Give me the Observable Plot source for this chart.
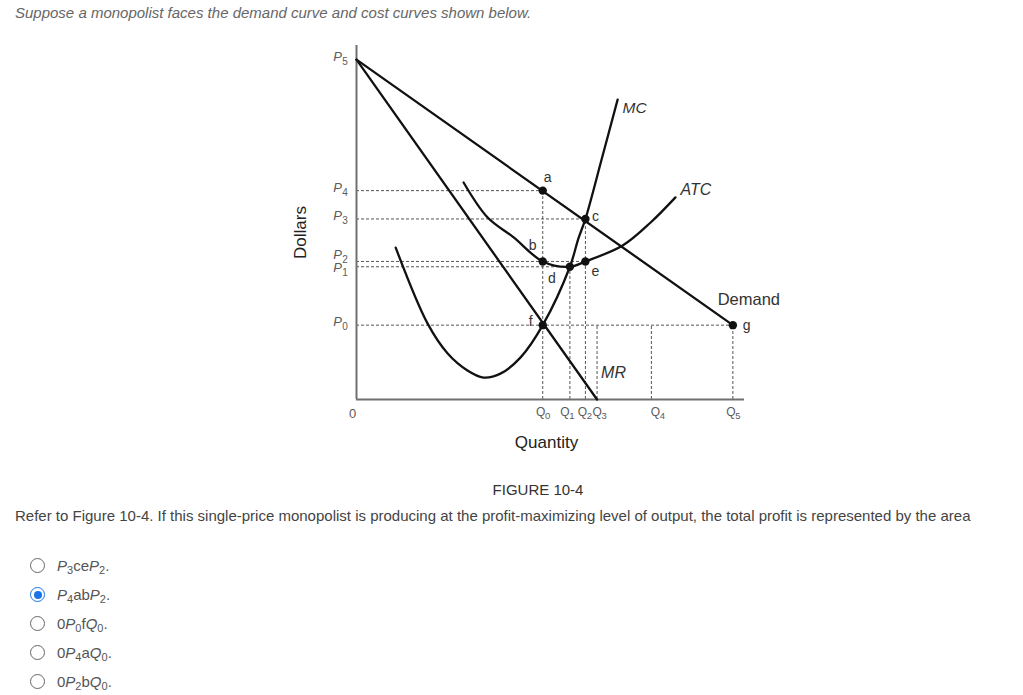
<!DOCTYPE html>
<html>
<head>
<meta charset="utf-8">
<script src="https://cdn.jsdelivr.net/npm/d3@7"></script>
<script src="https://cdn.jsdelivr.net/npm/@observablehq/plot@0.6"></script>
<style>
  html, body { margin: 0; padding: 0; background: #fff; }
  body { width: 1023px; height: 695px; position: relative; overflow: hidden; font-family: "Liberation Sans", Arial, sans-serif; }
  .abs { position: absolute; white-space: nowrap; }
  #title { left: 15px; top: 4px; font-size: 15px; font-style: italic; color: #666; }
  #chart { position: absolute; left: 0; top: 30px; }
  #fig { left: 0; width: 1076px; text-align: center; top: 481px; font-size: 15px; color: #333; }
  #question { left: 15px; top: 507px; font-size: 15px; color: #444; }
  .opt { left: 57px; font-size: 15px; color: #555; }
  .opt i { font-style: italic; }
  .opt sub { font-size: 11px; vertical-align: -3px; line-height: 0; }
  .radio { position: absolute; left: 30px; width: 13px; height: 13px; border: 1.6px solid #666; border-radius: 50%; box-sizing: content-box; }
  .radio.sel { border-color: #1a73e8; }
  .radio.sel::after { content: ""; position: absolute; left: 2.5px; top: 2.5px; width: 8px; height: 8px; border-radius: 50%; background: #1a73e8; }
</style>
</head>
<body>
<div id="title" class="abs">Suppose a monopolist faces the demand curve and cost curves shown below.</div>
<div id="chart"></div>
<div id="fig" class="abs">FIGURE 10-4</div>
<div id="question" class="abs">Refer to Figure 10-4. If this single-price monopolist is producing at the profit-maximizing level of output, the total profit is represented by the area</div>

<div class="radio" style="top:558px"></div>
<div class="abs opt" style="top:557px"><i>P</i><sub>3</sub>ce<i>P</i><sub>2</sub>.</div>
<div class="radio sel" style="top:587px"></div>
<div class="abs opt" style="top:586px"><i>P</i><sub>4</sub>ab<i>P</i><sub>2</sub>.</div>
<div class="radio" style="top:616px"></div>
<div class="abs opt" style="top:615px">0<i>P</i><sub>0</sub>f<i>Q</i><sub>0</sub>.</div>
<div class="radio" style="top:645px"></div>
<div class="abs opt" style="top:644px">0<i>P</i><sub>4</sub>a<i>Q</i><sub>0</sub>.</div>
<div class="radio" style="top:674px"></div>
<div class="abs opt" style="top:673px">0<i>P</i><sub>2</sub>b<i>Q</i><sub>0</sub>.</div>

<script>
// ---- Data ----
const qSubs = ["0", "1", "2", "3", "4", "5"];
const qValues = [48, 55, 59, 62, 76, 97];
const pSubs = ["0", "1", "2", "3", "4", "5"];
const pValues = [21, 37.5, 39, 51, 59, 96];

const demandQ = [0, 97];
const demandP = [96, 21];
const mrQ = [0, 62];
const mrP = [96, 0];
const mcQ = [10.1, 18.3, 23.5, 28.6, 32.7, 37.1, 42.3, 48, 55, 57.2, 59, 63.1, 67.3];
const mcP = [42.9, 21.5, 13.0, 8.2, 6.2, 7.3, 11.9, 21, 37.5, 45.5, 51, 67.5, 84.7];
const atcQ = [27.6, 33.8, 40.5, 48, 55, 59, 68.6, 75.8, 82.2];
const atcP = [61.3, 51.4, 45.8, 39, 37.5, 39, 43.5, 50, 57.1];

const pointNames = ["a", "b", "c", "d", "e", "f", "g"];
const pointQ = [48, 48, 59, 55, 59, 48, 97];
const pointP = [59, 39, 51, 37.5, 39, 21, 21];

// dashed guides: horizontal (price level -> quantity) and vertical (quantity -> price level)
const hDashP = [59, 51, 39, 37.5, 21];
const hDashQ = [48, 59, 59, 55, 97];
const vDashQ = [48, 55, 59, 62, 76, 97];
const vDashP = [59, 37.5, 51, 21, 21, 21];

// ---- Tables built from the arrays ----
const zip2 = (xs, ys) => xs.map((x, i) => ({x, y: ys[i]}));
const demand = zip2(demandQ, demandP);
const mr = zip2(mrQ, mrP);
const mc = zip2(mcQ, mcP);
const atc = zip2(atcQ, atcP);
const points = pointNames.map((n, i) => ({n, x: pointQ[i], y: pointP[i]}));
const hDash = hDashP.map((p, i) => ({p, q: hDashQ[i]}));
const vDash = vDashQ.map((q, i) => ({q, p: vDashP[i]}));
const qTicks = qSubs.map((s, i) => ({s, v: qValues[i]}));
const pTicks = pSubs.map((s, i) => ({s, v: pValues[i]}));
const pt = n => points.find(d => d.n === n);

// label offsets (style only)
const ink = "#111";
const labelDx = {a: 5, b: -10, c: 10, d: -18, e: 10, f: -12, g: 10};
const labelDy = {a: -13, b: -16, c: -2, d: 12, e: 10, f: -4, g: 0};
const pNudge = {"1": 4, "2": -4};
const qNudge = {"0": -2, "1": -5, "2": -3, "3": 0, "4": 4, "5": -2};
const labelGray = "#5a5a5a";

const chart = Plot.plot({
  width: 1023,
  height: 440,
  marginLeft: 356,
  marginRight: 279,
  marginTop: 15,
  marginBottom: 71,
  x: {domain: [0, 100], axis: null},
  y: {domain: [0, 100], axis: null},
  style: {fontFamily: "Liberation Sans, Arial, sans-serif", background: "transparent"},
  marks: [
    // dashed guides
    Plot.ruleY(hDash, {y: "p", x1: 0, x2: "q", stroke: "#555", strokeWidth: 1, strokeDasharray: "3,2"}),
    Plot.ruleX(vDash, {x: "q", y1: 0, y2: "p", stroke: "#555", strokeWidth: 1, strokeDasharray: "3,2"}),
    // axis lines
    Plot.ruleX([0], {y1: 0, y2: 100, stroke: "#707070", strokeWidth: 2}),
    Plot.ruleY([0], {x1: 0, x2: 100, stroke: "#707070", strokeWidth: 2}),
    // curves
    Plot.line(demand, {x: "x", y: "y", stroke: ink, strokeWidth: 2.3}),
    Plot.line(mr, {x: "x", y: "y", stroke: ink, strokeWidth: 2.3}),
    Plot.line(mc, {x: "x", y: "y", stroke: ink, strokeWidth: 2.3, curve: "catmull-rom"}),
    Plot.line(atc, {x: "x", y: "y", stroke: ink, strokeWidth: 2.3, curve: "catmull-rom"}),
    // points
    Plot.dot(points, {x: "x", y: "y", r: 4.2, fill: ink}),
    ...points.map(d => Plot.text([d], {x: "x", y: "y", text: "n", fontSize: 14, fill: "#333",
      dx: labelDx[d.n], dy: labelDy[d.n], textAnchor: d.n === "g" ? "start" : "middle"})),
    // price tick labels: italic P with subscript
    ...pTicks.map(d => Plot.text([d], {x: 0, y: "v", text: () => "P", dx: -19, dy: -3 + (pNudge[d.s] || 0),
      fontSize: 13, fontStyle: "italic", fill: labelGray, textAnchor: "middle"})),
    ...pTicks.map(d => Plot.text([d], {x: 0, y: "v", text: "s", dx: -11.5, dy: 2 + (pNudge[d.s] || 0),
      fontSize: 10, fill: labelGray, textAnchor: "middle"})),
    // quantity tick labels: Q with subscript
    ...qTicks.map(d => Plot.text([d], {x: "v", y: 0, text: () => "Q", dx: qNudge[d.s], dy: 13,
      fontSize: 12, fill: labelGray, textAnchor: "middle"})),
    ...qTicks.map(d => Plot.text([d], {x: "v", y: 0, text: "s", dx: qNudge[d.s] + 7, dy: 16,
      fontSize: 9.5, fill: labelGray, textAnchor: "middle"})),
    Plot.text(["0"], {x: 0, y: 0, text: d => d, dx: -4, dy: 14, fontSize: 13, fill: labelGray}),
    // curve labels
    Plot.text([mc[mc.length - 1]], {x: "x", y: "y", text: () => "MC", dx: 5, dy: 8, fontSize: 15.5, fontStyle: "italic", fill: "#333", textAnchor: "start"}),
    Plot.text([atc[atc.length - 1]], {x: "x", y: "y", text: () => "ATC", dx: 5, dy: -7, fontSize: 16, fontStyle: "italic", fill: "#333", textAnchor: "start"}),
    Plot.text([pt("g")], {x: "x", y: "y", text: () => "Demand", dx: 16, dy: -25, fontSize: 16.5, fill: "#333", textAnchor: "middle"}),
    Plot.text([mr[1]], {x: "x", y: "y", text: () => "MR", dx: 4, dy: -27, fontSize: 16, fontStyle: "italic", fill: "#333", textAnchor: "start"}),
    // axis titles
    Plot.text(["Quantity"], {frameAnchor: "bottom", text: d => d, dx: -4, dy: 48, fontSize: 17, fill: "#222", textAnchor: "middle"}),
    Plot.text(["Dollars"], {frameAnchor: "left", text: d => d, dx: -56, dy: 10, rotate: -90, fontSize: 17, fill: "#222", textAnchor: "middle"})
  ]
});
document.getElementById("chart").appendChild(chart);
</script>
</body>
</html>
